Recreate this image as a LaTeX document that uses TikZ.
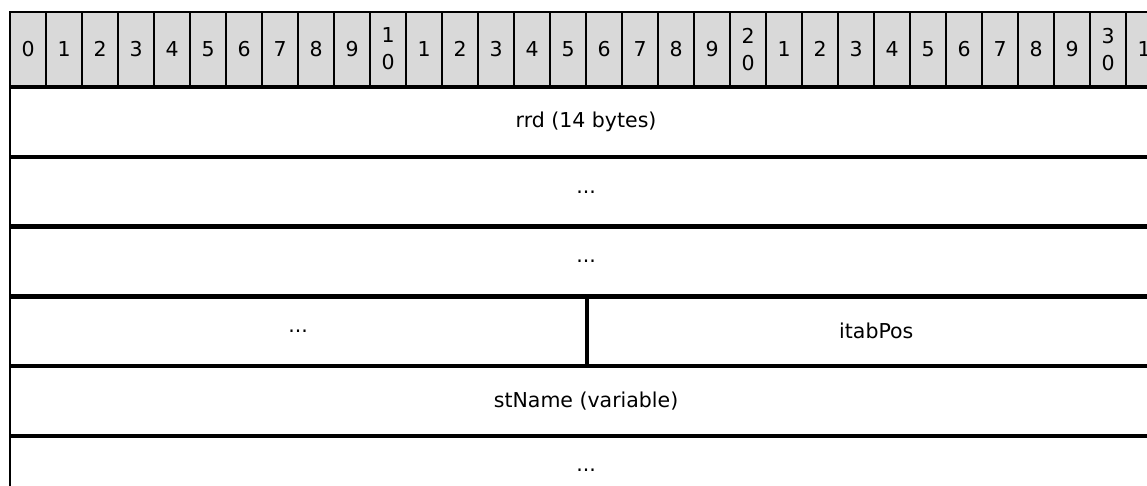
\documentclass[tikz,border=0pt]{standalone}
\usepackage{fontspec}
\setmainfont{DejaVu Sans}
\usepackage{xcolor}
\usetikzlibrary{positioning}
\definecolor{hdrgray}{HTML}{D9D9D9}

\begin{document}
\begin{tikzpicture}[
    x=1pt, y=-1pt,
    font=\fontsize{20.5}{27}\selectfont,
    bitcell/.style={
        draw,
        line width=2.2pt,
        fill=hdrgray,
        anchor=north west,
        align=center,
        inner sep=0pt,
        minimum width=36pt,
        minimum height=74pt
    },
    field/.style={
        draw,
        line width=2.2pt,
        inner sep=0pt,
        minimum height=67.5pt
    }
]

% ---- Page frame ----
\useasboundingbox (0,0) rectangle (1147,485);
\clip (0,0) rectangle (1147,485);

% ---- Bit ruler ----
\foreach \b in {0,...,31} {
    \pgfmathtruncatemacro{\unit}{mod(\b,10)}
    \pgfmathtruncatemacro{\tens}{div(\b,10)}
    \ifnum\unit=0
        \ifnum\b>0 \def\lab{\tens\\0}\else\def\lab{0}\fi
    \else
        \def\lab{\unit}
    \fi
    \node[bitcell] (bit\b) at (9+36*\b, 11) {\lab};
}

% ---- Fields ----
\node[field, minimum width=1152pt, below right=0pt and 0pt of bit0.south west] (rrd) {rrd (14 bytes)};
\node[field, minimum width=1152pt, below=0pt of rrd] (rrdb) {...};
\node[field, minimum width=1152pt, below=0pt of rrdb] (rrdc) {...};

\node[field, minimum width=576pt, below right=0pt and 0pt of rrdc.south west] (rrdd) {...};
\node[field, minimum width=576pt, right=0pt of rrdd] (itabpos) {itabPos};

\node[field, minimum width=1152pt, below right=0pt and 0pt of rrdd.south west] (stname) {stName (variable)};
\node[field, minimum width=1152pt, below=0pt of stname] (more) {...};

\end{tikzpicture}
\end{document}
